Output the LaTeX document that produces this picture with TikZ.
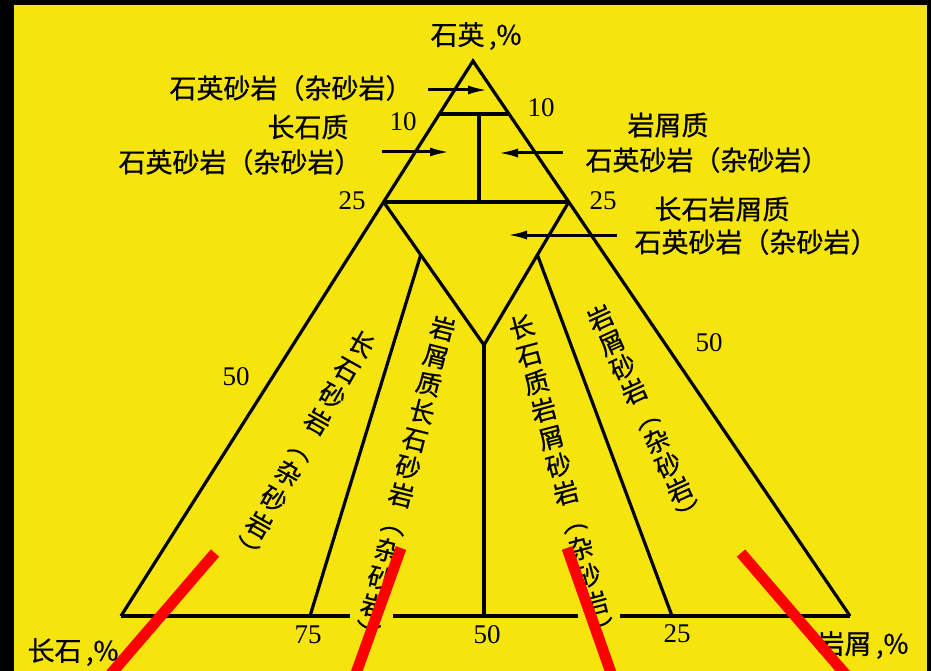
\documentclass[tikz,border=0pt]{standalone}
\usepackage{fontspec}
\setmainfont{Liberation Serif}
\newfontfamily\cjk[FakeBold=0.6]{Noto Sans CJK SC}
\usetikzlibrary{calc,arrows.meta}
\definecolor{bgyellow}{RGB}{246,229,12}
\definecolor{mkred}{RGB}{255,0,0}
\begin{document}
\begin{tikzpicture}[x=1pt,y=-1pt,
  tri/.style={line width=3.2pt, line join=miter},
  num/.style={font=\fontsize{27}{27}\selectfont, inner sep=0pt},
  lab/.style={font=\cjk\fontsize{27}{27}\selectfont, inner sep=0pt},
  vlab/.style={font=\cjk\fontsize{25.5}{#1}\selectfont, align=center, inner sep=0pt},
  arr/.style={line width=3pt, -{Latex[length=20pt,width=9pt]}},
  redl/.style={line width=11pt, draw=mkred}]
\useasboundingbox (0,0) rectangle (931,671);
\fill[black] (0,0) rectangle (931,671);
\fill[bgyellow] (14,5) rectangle (927,671);

% main triangle
\coordinate (A) at (473,61);
\coordinate (BL) at (121,616);
\coordinate (BR) at (850,616);
\coordinate (L10) at ($(A)!0.0955!(BL)$);
\coordinate (R10) at ($(A)!0.0955!(BR)$);
\coordinate (L25) at ($(A)!0.254!(BL)$);
\coordinate (R25) at ($(A)!0.254!(BR)$);
\coordinate (V) at (484,345);
\coordinate (VL) at ($(L25)!0.37!(V)$);
\coordinate (VR) at ($(R25)!0.37!(V)$);
\coordinate (B75) at (310,616);
\coordinate (B50) at (484,616);
\coordinate (B25) at (672,616);
\coordinate (T10) at (479,114);
\coordinate (T25) at (479,202);

\draw[tri] (BL) -- (A) -- (BR);
\draw[tri] (BL) -- (350,616);
\draw[tri] (393,616) -- (578,616);
\draw[tri] (620,616) -- (BR);
\draw[tri] (L10) -- (R10);
\draw[tri] (L25) -- (R25);
\draw[tri] (T10) -- (T25);
\draw[tri] (L25) -- (V) -- (R25);
\draw[tri] (V) -- (B50);
\draw[tri] (VL) -- (B75);
\draw[tri] (VR) -- (B25);

% numbers
\node[num] (n10l) at (403,122) {10};
\node[num] (n10r) at (541,108) {10};
\node[num] (n25l) at (352,201) {25};
\node[num] (n25r) at (603,201) {25};
\node[num] (n50l) at (236,377) {50};
\node[num] (n50r) at (709,343) {50};
\node[num] (n75b) at (308,635) {75};
\node[num] (n50b) at (487,635) {50};
\node[num] (n25b) at (677,634) {25};

% horizontal labels
\node[lab] (top) at (476,36) {石英\,,\%};
\node[lab] (q1) at (291,88) {石英砂岩（杂砂岩）};
\node[lab] (f1a) at (308,127) {长石质};
\node[lab] (f1b) at (240,162) {石英砂岩（杂砂岩）};
\node[lab] (r1a) at (668,125) {岩屑质};
\node[lab] (r1b) at (707,160) {石英砂岩（杂砂岩）};
\node[lab] (fr1a) at (722,209) {长石岩屑质};
\node[lab] (fr1b) at (756,242) {石英砂岩（杂砂岩）};
\node[lab] (feld) at (73,652) {长石\,,\%};
\node[lab] (lith) at (863,645) {岩屑\,,\%};

% arrows
\coordinate (a1s) at (428,90);  \coordinate (a1e) at (488,90);
\coordinate (a2s) at (382,152); \coordinate (a2e) at (450,152);
\coordinate (a3s) at (563,153); \coordinate (a3e) at (498,153);
\coordinate (a4s) at (617,235); \coordinate (a4e) at (507,235);
\draw[arr] (a1s) -- (a1e);
\draw[arr] (a2s) -- (a2e);
\draw[arr] (a3s) -- (a3e);
\draw[arr] (a4s) -- (a4e);

% vertical labels
\node[vlab=29.7, rotate=-29.5] (c1) at (303.5,446.5) {长\\石\\砂\\岩\\︵\\杂\\砂\\岩\\︶};
\node[vlab=28.6, rotate=-14] (c2) at (405,480) {岩\\屑\\质\\长\\石\\砂\\岩\\︵\\杂\\砂\\岩\\︶};
\node[vlab=28.6, rotate=15] (c3) at (562,478) {长\\石\\质\\岩\\屑\\砂\\岩\\︵\\杂\\砂\\岩\\︶};
\node[vlab=27, rotate=24.7] (c4) at (645,415) {岩\\屑\\砂\\岩\\︵\\杂\\砂\\岩\\︶};

% red marks
\begin{scope}
\clip (0,0) rectangle (931,671);
\coordinate (m1a) at (215,553); \coordinate (m1b) at (97,690);
\coordinate (m2a) at (401,548); \coordinate (m2b) at (350,690);
\coordinate (m3a) at (567,548); \coordinate (m3b) at (617,690);
\coordinate (m4a) at (741,553); \coordinate (m4b) at (859,690);
\draw[redl] (m1a) -- (m1b);
\draw[redl] (m2a) -- (m2b);
\draw[redl] (m3a) -- (m3b);
\draw[redl] (m4a) -- (m4b);
\end{scope}
\end{tikzpicture}
\end{document}
